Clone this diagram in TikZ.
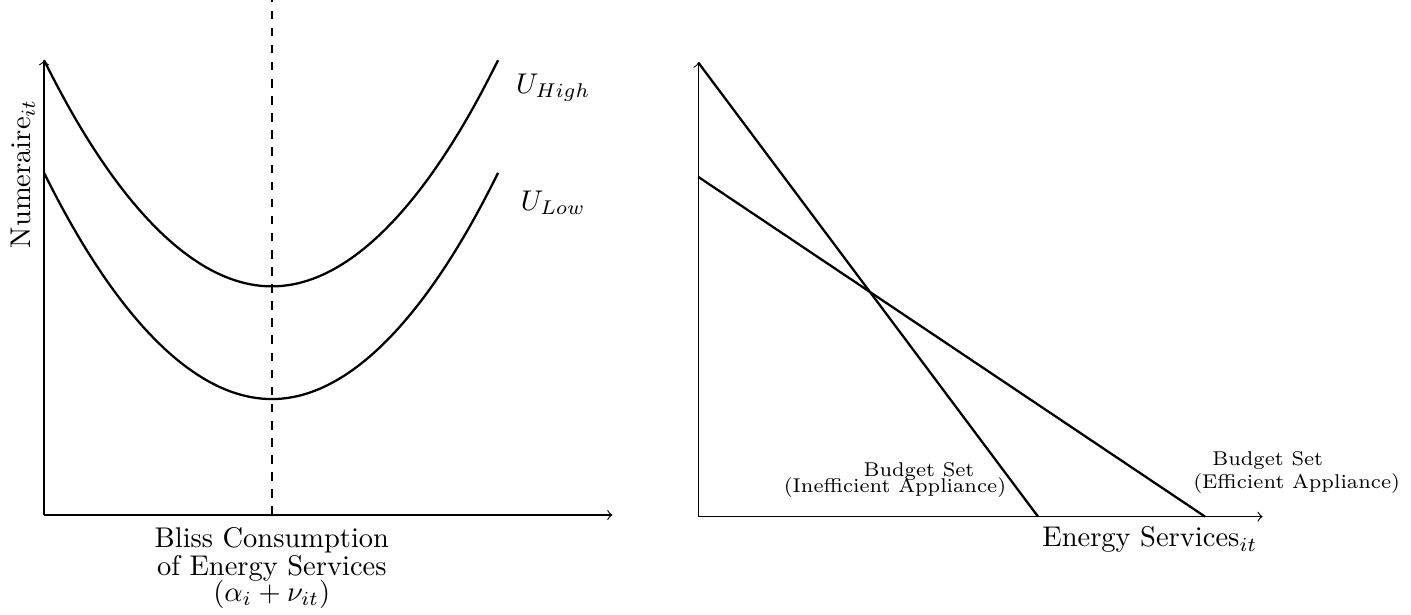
\documentclass[tikz,border=0pt]{standalone}
\usetikzlibrary{positioning}
\tikzset{
  axis/.style={->},
  curve/.style={thick},
  budget/.style={font=\scriptsize, align=left, anchor=west},
}
\begin{document}
\begin{tikzpicture}
    \useasboundingbox (-0.543,-1.233) rectangle (16.86,6.352);

    \coordinate (o1) at (0,0);
    \coordinate (y1) at (0,5.61);
    \coordinate (x1) at (7.01,0);
    \draw[axis] (o1) -- (y1);
    \draw[axis] (o1) -- (x1);
    \coordinate (bliss) at (2.81,0);
    \coordinate (blisstop) at (2.81,6.35);
    \draw[thick,dashed] (bliss) -- (blisstop);
    \foreach \s/\u/\ly in {
        0/High/5.27,
        1.39/Low/3.85}{
      \draw[curve] (0,{5.61-\s}) parabola bend (2.81,{2.82-\s}) (5.6,{5.61-\s});
      \node (u\u) at (6.28,\ly) {$U_{\u}$};
    }
    \node[rotate=90] (num) at (-0.26,4.21) {Numeraire$_{it}$};
    \node[below=0.03 of bliss, align=center] (blisslbl)
      {Bliss Consumption\\[-2.2pt] of Energy Services\\[-3pt] $(\alpha_i+\nu_{it})$};

    \coordinate (o2) at (8.07,-0.02);
    \coordinate (y2) at (8.07,5.58);
    \coordinate (x2) at (15.03,-0.02);
    \coordinate (ineffx) at (12.26,-0.02);
    \coordinate (effy) at (8.07,4.17);
    \coordinate (effx) at (14.32,-0.02);
    \draw[axis] (o2) -- (y2);
    \draw[axis] (o2) -- (x2);
    \draw[curve] (y2) -- (ineffx);
    \draw[curve] (effy) -- (effx);
    \node[below] (es) at (13.64,-0.02) {Energy Services$_{it}$};
    \node[budget] (ineff) at (9.00,0.43) {\hspace*{28pt}Budget Set\\[-2.2pt](Inefficient Appliance)};
    \node[budget] (eff) at (14.05,0.52) {\hspace*{6.7pt}Budget Set\\(Efficient Appliance)};
  \end{tikzpicture}
\end{document}
